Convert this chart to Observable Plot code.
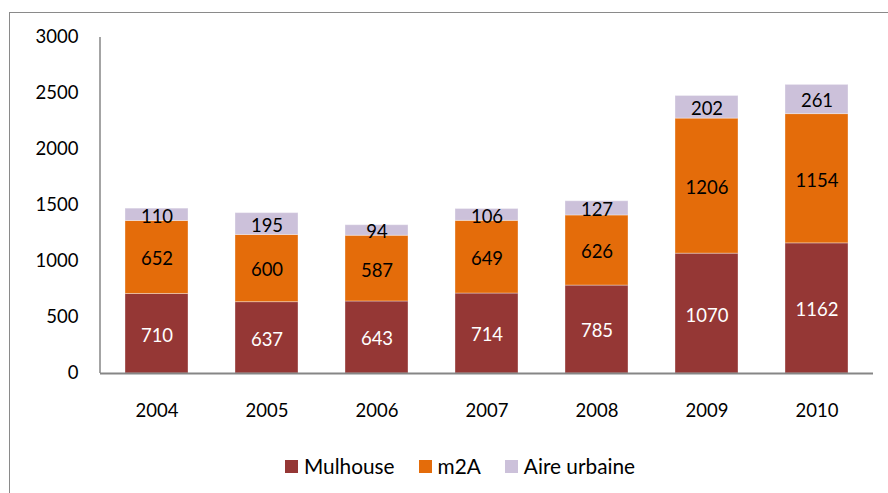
<!DOCTYPE html>
<html>
<head>
<meta charset="utf-8">
<script src="https://cdn.jsdelivr.net/npm/d3@7"></script>
<script src="https://cdn.jsdelivr.net/npm/@observablehq/plot@0.6"></script>
<style>
  html, body { margin: 0; padding: 0; background: #fff; }
  body { width: 888px; height: 493px; position: relative; overflow: hidden; font-family: Lato, "Open Sans", sans-serif; }
  #frame { position: absolute; left: 9px; top: 12px; width: 920px; height: 520px; border: 1.5px solid #8a8a8a; box-sizing: border-box; }
  #chart { position: absolute; left: 0; top: 0; }
  #legend { position: absolute; left: 285px; top: 453px; display: flex; align-items: center; font-size: 20.8px; line-height: 26px; color: #000; }
  .item { display: flex; align-items: center; margin-right: 24px; }
  .sw { width: 13px; height: 13px; margin-right: 6px; }
</style>
</head>
<body>
<div id="frame"></div>
<div id="chart"></div>
<div id="legend"></div>
<script>
const years = ["2004", "2005", "2006", "2007", "2008", "2009", "2010"];
const series = ["Mulhouse", "m2A", "Aire urbaine"];
const colors = ["#953735", "#E46C0A", "#CCC1DA"];
const labelColors = ["#ffffff", "#000000", "#000000"];
const mulhouse = [710, 637, 643, 714, 785, 1070, 1162];
const m2a = [652, 600, 587, 649, 626, 1206, 1154];
const aire = [110, 195, 94, 106, 127, 202, 261];
const yTicks = [0, 500, 1000, 1500, 2000, 2500, 3000];

const values = [mulhouse, m2a, aire];
const data = [];
series.forEach((s, si) => {
  years.forEach((yr, i) => data.push({year: yr, series: s, value: values[si][i], si}));
});

const stackOpts = {x: "year", y: "value", z: "series", order: series};

const marks = [
  Plot.barY(data, Plot.stackY({...stackOpts, fill: "series", stroke: "#ffffff", strokeOpacity: 0.35, strokeWidth: 1})),
  Plot.ruleY([0], {stroke: "#868686", strokeWidth: 2}),
];
series.forEach((s, si) => {
  marks.push(Plot.text(data, Plot.stackY({
    ...stackOpts,
    text: d => d.si === si ? String(d.value) : "",
    fill: labelColors[si],
    fontSize: 18.5,
    dy: 2
  })));
});

const plot = Plot.plot({
  width: 888,
  height: 440,
  marginLeft: 100,
  marginRight: 15,
  marginTop: 37,
  marginBottom: 67,
  style: {fontFamily: "Lato, 'Open Sans', sans-serif", fontSize: "18.5px", color: "#000", background: "transparent"},
  x: {domain: years, paddingInner: 0.43, paddingOuter: 0.215, label: null, tickSize: 0, tickPadding: 30},
  y: {domain: [0, 3000], ticks: yTicks, label: null, tickSize: 0, tickPadding: 22, tickFormat: d => String(d)},
  color: {domain: series, range: colors},
  marks
});
document.getElementById("chart").appendChild(plot);

// y axis domain line using the plot's scales
const xs = plot.scale("x"), ys = plot.scale("y");
d3.select(plot).append("line")
  .attr("x1", xs.range[0]).attr("x2", xs.range[0])
  .attr("y1", ys.range[0]).attr("y2", ys.range[1])
  .attr("stroke", "#868686").attr("stroke-width", 1.5);

const legend = document.getElementById("legend");
series.forEach((s, i) => {
  const it = document.createElement("div");
  it.className = "item";
  it.innerHTML = `<div class="sw" style="background:${colors[i]}"></div><span>${s}</span>`;
  legend.appendChild(it);
});
</script>
</body>
</html>
